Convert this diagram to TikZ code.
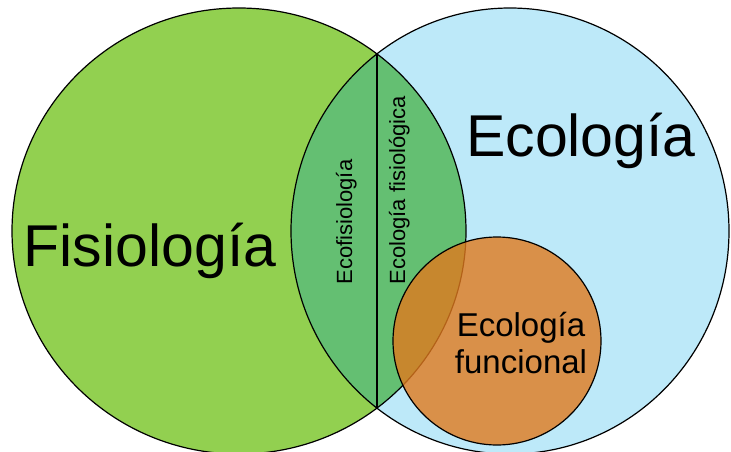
\documentclass[tikz,border=0pt]{standalone}
\usepackage{fontspec}
\setmainfont{Liberation Sans}
\definecolor{fisgreen}{HTML}{92D050}
\definecolor{ecoblue}{HTML}{BDE9F9}
\definecolor{lensgreen}{HTML}{64BF72}
\definecolor{funcorange}{HTML}{E07A1E}

\begin{document}
\begin{tikzpicture}[x=1pt,y=-1pt,line width=1.2pt,
  big/.style={font=\fontsize{59}{60}\selectfont,inner sep=0pt},
  side/.style={font=\fontsize{22}{24}\selectfont,inner sep=0pt,rotate=90,anchor=base west},
  mid/.style={font=\fontsize{33}{37}\selectfont,align=center,inner sep=0pt}]

\useasboundingbox (0,0) rectangle (731,452);

\coordinate (cf) at (239,231);
\coordinate (ce) at (510,231);
\coordinate (cu) at (497,341);
\coordinate (top) at (377,54);
\coordinate (bot) at (377,408);

\fill[fisgreen] (cf) ellipse [x radius=227pt, y radius=223pt];
\fill[ecoblue]  (ce) ellipse [x radius=219pt, y radius=223pt];
\begin{scope}
  \clip (cf) ellipse [x radius=227pt, y radius=223pt];
  \fill[lensgreen] (ce) ellipse [x radius=219pt, y radius=223pt];
\end{scope}
\draw (cf) ellipse [x radius=227pt, y radius=223pt];
\draw (ce) ellipse [x radius=219pt, y radius=223pt];
\draw (top) -- (bot);
\draw[fill=funcorange,fill opacity=0.8] (cu) circle [radius=104pt];

\node[big,anchor=base] (fis) at (150,266) {Fisiología};
\node[big,anchor=base] (eco) at (581,156) {Ecología};
\node[side] (ecofis)   at (352,285) {Ecofisiología};
\node[side] (ecofisio) at (405,285) {Ecología fisiológica};
\node[mid]  (func)     at (521,343) {Ecología\\funcional};

\end{tikzpicture}
\end{document}
